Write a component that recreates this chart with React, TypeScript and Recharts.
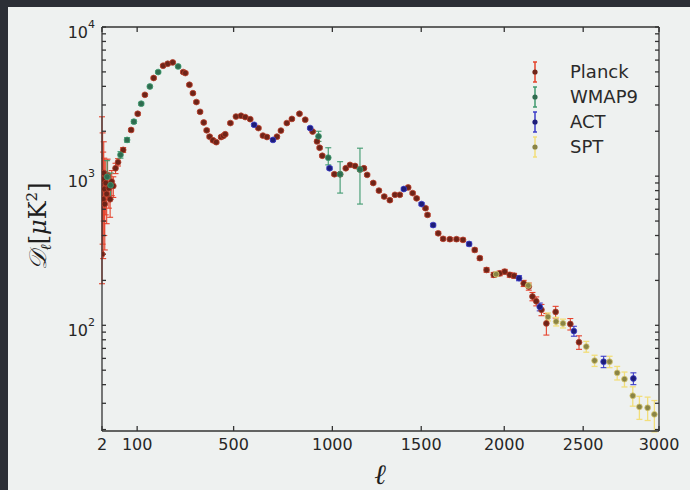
import React from 'react';
import { ScatterChart, Scatter, XAxis, YAxis, ErrorBar } from 'recharts';

// ---------- data (multipole l, D_l in uK^2, error) ----------
const planckL = [2, 3, 4, 5, 6, 7, 9, 11, 13, 16, 19, 23, 27, 33, 40, 55, 80, 102, 127, 159, 195, 213, 233, 276, 285, 302, 317, 332, 348, 364, 377, 390, 405, 420, 442, 452, 461, 485, 511, 535, 555, 579, 619, 641, 661, 711, 731, 761, 787, 826, 856, 895, 918, 932, 946, 1011, 1042, 1073, 1096, 1124, 1151, 1173, 1191, 1225, 1257, 1287, 1319, 1348, 1376, 1424, 1450, 1473, 1525, 1537, 1600, 1629, 1669, 1709, 1748, 1819, 1850, 1891, 1935, 1972, 2003, 2034, 2061, 2121, 2153, 2176, 2200, 2233, 2264, 2323, 2417, 2473];
const planckD = [300, 950, 700, 1050, 820, 650, 900, 760, 1000, 830, 700, 920, 860, 1130, 1240, 1500, 2040, 2620, 3510, 4550, 5500, 5670, 5790, 4990, 4910, 4100, 3600, 3140, 2700, 2290, 2030, 1840, 1740, 1690, 1830, 1860, 1910, 2270, 2510, 2540, 2490, 2410, 2100, 1870, 1830, 1840, 2020, 2270, 2420, 2620, 2390, 1990, 1710, 1550, 1370, 1030, 1030, 1130, 1190, 1170, 1110, 1130, 1020, 900, 800, 730, 690, 750, 750, 840, 770, 710, 610, 550, 414, 380, 378, 378, 374, 320, 282, 235, 218, 223, 229, 218, 215, 191, 182, 156, 145, 127, 103, 123, 102, 77];
const planckErr: (number | number[])[] = [[110, 2200], [600, 1000], [420, 750], [550, 650], [420, 500], [330, 420], [350, 380], [280, 300], [300, 300], [220, 210], [170, 170], [180, 170], [140, 130], 90, 70, 55, 50, 55, 65, 75, 85, 85, 90, 80, 80, 70, 65, 60, 55, 45, 42, 38, 36, 35, 35, 35, 35, 40, 40, 40, 40, 40, 35, 35, 33, 33, 34, 36, 38, 40, 38, 32, 30, 28, 26, 22, 22, 22, 22, 22, 22, 22, 20, 18, 17, 16, 15, 15, 15, 16, 15, 14, 13, 12, 10, 10, 10, 10, 10, 9, 8, 8, 8, 8, 8, 8, 8, 9, 10, 10, 10, 11, 17, 11, 9, 8];

const wmapL = [12, 20, 47, 67, 89, 114, 145, 176, 255, 926, 978, 1042, 1151];
const wmapD = [990, 870, 1390, 1750, 2320, 3060, 3990, 4990, 5440, 1850, 1330, 1030, 1110];
const wmapErr: (number | number[])[] = [[250, 280], [170, 180], 70, 60, 60, 65, 75, 85, 95, [140, 150], [140, 220], [260, 220], [460, 430]];

const actL = [598, 691, 882, 985, 1399, 1502, 1570, 1785, 2092, 2222, 2440, 2633, 2829];
const actD = [2210, 1750, 2100, 1130, 820, 650, 470, 351, 207, 133, 91.5, 57, 44];
const actErr: (number | number[])[] = [45, 35, 35, 25, 18, 15, 12, 10, 8, 8, 7, 5, 4];

const sptL = [1950, 2150, 2274, 2326, 2370, 2520, 2574, 2672, 2722, 2770, 2825, 2869, 2924, 2969];
const sptD = [220, 185, 114, 106, 103, 72, 58, 57, 48, 43.6, 33.7, 28.4, 28, 25.3];
const sptErr: (number | number[])[] = [6, 6, 7, 7, 7, 6, 5, 5, 5, 5, 5, 5, 5, [6, 6]];

const seriesNames = ['Planck', 'WMAP9', 'ACT', 'SPT'];

const xTicks = [2, 100, 500, 1000, 1500, 2000, 2500, 3000];
const xDomain = [2, 3000];
const yMajor = [100, 1000, 10000];
const yMinor = [20, 30, 40, 50, 60, 70, 80, 90, 200, 300, 400, 500, 600, 700, 800, 900, 2000, 3000, 4000, 5000, 6000, 7000, 8000, 9000];
const yTicks = [...yMajor, ...yMinor].sort((a, b) => a - b);
const yDomain = [19.56, 10000];

// ---------- build tables ----------
const build = (L: number[], D: number[], E: (number | number[])[]) =>
  L.map((l, i) => ({ l, d: D[i], e: E[i] }));
const planckData = build(planckL, planckD, planckErr);
const wmapData = build(wmapL, wmapD, wmapErr);
const actData = build(actL, actD, actErr);
const sptData = build(sptL, sptD, sptErr);

// ---------- power-law scale (exponent 0.8) ----------
function powScale(exponent: number, dom: number[] = [0, 1], rng: number[] = [0, 1]): any {
  let d = dom.slice();
  let r = rng.slice();
  const t = (v: number) => Math.sign(v) * Math.pow(Math.abs(v), exponent);
  const ti = (v: number) => Math.sign(v) * Math.pow(Math.abs(v), 1 / exponent);
  const s: any = (v: number) => {
    const a = t(d[0]);
    const b = t(d[d.length - 1]);
    return r[0] + ((t(+v) - a) / (b - a)) * (r[r.length - 1] - r[0]);
  };
  s.domain = (x?: any[]) => {
    if (x === undefined) return d.slice();
    d = x.map(Number);
    return s;
  };
  s.range = (x?: any[]) => {
    if (x === undefined) return r.slice();
    r = x.map(Number);
    return s;
  };
  s.rangeRound = (x?: any[]) => s.range(x);
  s.copy = () => powScale(exponent, d, r);
  s.invert = (px: number) => {
    const a = t(d[0]);
    const b = t(d[d.length - 1]);
    return ti(a + ((px - r[0]) / (r[r.length - 1] - r[0])) * (b - a));
  };
  s.ticks = (n = 10) => {
    const lo = d[0];
    const hi = d[d.length - 1];
    const raw = (hi - lo) / Math.max(1, n);
    const p = Math.pow(10, Math.floor(Math.log10(raw)));
    const m = raw / p;
    const step = (m >= 5 ? 10 : m >= 2 ? 5 : m >= 1 ? 2 : 1) * p;
    const out: number[] = [];
    for (let v = Math.ceil(lo / step) * step; v <= hi + 1e-9; v += step) out.push(v);
    return out;
  };
  s.tickFormat = () => (v: any) => String(v);
  s.nice = () => s;
  s.clamp = () => s;
  s.unknown = () => s;
  s.interpolate = () => s;
  return s;
}
const xScale = powScale(0.8);

// ---------- styles ----------
const FONT = 'DejaVu Sans';
const axisStyle = { stroke: '#333333', strokeWidth: 1.3 };
const xTickStyle = { fontSize: 16, fill: '#262626', fontFamily: FONT };

const emptyTick = () => <g />;
const yTick = (props: any) => {
  const v = props.payload.value;
  const exp = Math.round(Math.log10(v));
  if (Math.abs(Math.pow(10, exp) - v) > 1e-6) return <g />;
  return (
    <text x={props.x} y={props.y + 5} textAnchor="end" dominantBaseline="central" fontSize={16} fill="#262626" fontFamily={FONT}>
      10<tspan dy={-8} fontSize={11}>{exp}</tspan>
    </text>
  );
};

const makeDot = (fill: string, stroke: string) => (props: any) => (
  <circle cx={props.cx} cy={props.cy} r={2.9} fill={fill} stroke={stroke} strokeWidth={0.8} />
);
const planckDot = makeDot('#6e2418', '#b8402c');
const wmapDot = makeDot('#2f6b4f', '#3f9a6f');
const actDot = makeDot('#1d1d78', '#3c3cc8');
const sptDot = makeDot('#8a8446', '#d8c870');

const legendColors = [
  { bar: '#e5432d', dot: '#6e2418' },
  { bar: '#3f9a6f', dot: '#2f6b4f' },
  { bar: '#3c3cc8', dot: '#1d1d78' },
  { bar: '#f2de7a', dot: '#8a8446' },
];

const margin = { top: 26, right: 30, bottom: 29, left: 62 };

export default function App() {
  return (
    <div style={{ position: 'absolute', left: 0, top: 0, width: 690, height: 490, background: '#2c2f36', overflow: 'hidden' }}>
      <div style={{ position: 'absolute', left: 8, top: 7, right: 0, bottom: 0, background: '#eef1f0' }} />
      <div style={{ position: 'absolute', left: 0, top: 0 }}>
        <ScatterChart width={690} height={490} margin={margin}>
          <XAxis xAxisId="b" dataKey="l" type="number" scale={xScale} domain={xDomain} ticks={xTicks} interval={0}
            allowDataOverflow height={30} tickSize={-5} tickMargin={13} tick={xTickStyle} axisLine={axisStyle} tickLine={axisStyle} />
          <XAxis xAxisId="t" orientation="top" dataKey="l" type="number" scale={xScale} domain={xDomain} ticks={xTicks} interval={0}
            allowDataOverflow height={1} tickSize={-5} tick={emptyTick} axisLine={axisStyle} tickLine={axisStyle} />
          <YAxis yAxisId="l" dataKey="d" type="number" scale="log" domain={yDomain} ticks={yTicks} interval={0}
            allowDataOverflow width={40} tickSize={-4} tickMargin={11} tick={yTick} axisLine={axisStyle} tickLine={axisStyle} />
          <YAxis yAxisId="r" orientation="right" dataKey="d" type="number" scale="log" domain={yDomain} ticks={yTicks} interval={0}
            allowDataOverflow width={1} tickSize={-4} tick={emptyTick} axisLine={axisStyle} tickLine={axisStyle} />
          <Scatter name="Planck" data={planckData} xAxisId="b" yAxisId="l" shape={planckDot} isAnimationActive={false}>
            <ErrorBar dataKey="e" direction="y" width={3} stroke="#e5432d" strokeWidth={1.1} />
          </Scatter>
          <Scatter name="WMAP9" data={wmapData} xAxisId="b" yAxisId="l" shape={wmapDot} isAnimationActive={false}>
            <ErrorBar dataKey="e" direction="y" width={3} stroke="#3f9a6f" strokeWidth={1.1} />
          </Scatter>
          <Scatter name="ACT" data={actData} xAxisId="b" yAxisId="l" shape={actDot} isAnimationActive={false}>
            <ErrorBar dataKey="e" direction="y" width={3} stroke="#3c3cc8" strokeWidth={1.1} />
          </Scatter>
          <Scatter name="SPT" data={sptData} xAxisId="b" yAxisId="l" shape={sptDot} isAnimationActive={false}>
            <ErrorBar dataKey="e" direction="y" width={3} stroke="#f2de7a" strokeWidth={1.3} />
          </Scatter>
        </ScatterChart>
      </div>
      <div style={{ position: 'absolute', left: 528, top: 59, fontFamily: FONT, fontSize: 18, color: '#2a2a2a' }}>
        {seriesNames.map((name, i) => (
          <div key={name} style={{ display: 'flex', alignItems: 'center', height: 25 }}>
            <svg width={14} height={22} style={{ marginRight: 28 }}>
              <line x1={7} x2={7} y1={1} y2={21} stroke={legendColors[i].bar} strokeWidth={1.5} />
              <line x1={5} x2={9} y1={1} y2={1} stroke={legendColors[i].bar} strokeWidth={1.5} />
              <line x1={5} x2={9} y1={21} y2={21} stroke={legendColors[i].bar} strokeWidth={1.5} />
              <circle cx={7} cy={11} r={2.6} fill={legendColors[i].dot} />
            </svg>
            <span>{name}</span>
          </div>
        ))}
      </div>
      <svg width={690} height={490} style={{ position: 'absolute', left: 0, top: 0, pointerEvents: 'none' }}>
        <text transform="translate(46,226) rotate(-90)" textAnchor="middle" fontSize={24} fill="#1e1e1e" fontFamily="DejaVu Serif">
          <tspan fontStyle="italic">𝒟</tspan>
          <tspan fontSize={15} dy={5} fontStyle="italic">ℓ</tspan>
          <tspan dy={-5}>[</tspan>
          <tspan fontStyle="italic">μ</tspan>
          <tspan>K</tspan>
          <tspan dy={-9} fontSize={15}>2</tspan>
          <tspan dy={9}>]</tspan>
        </text>
        <text x={380} y={484} textAnchor="middle" fontSize={28} fill="#1e1e1e" fontFamily="DejaVu Serif" fontStyle="italic">ℓ</text>
      </svg>
    </div>
  );
}
